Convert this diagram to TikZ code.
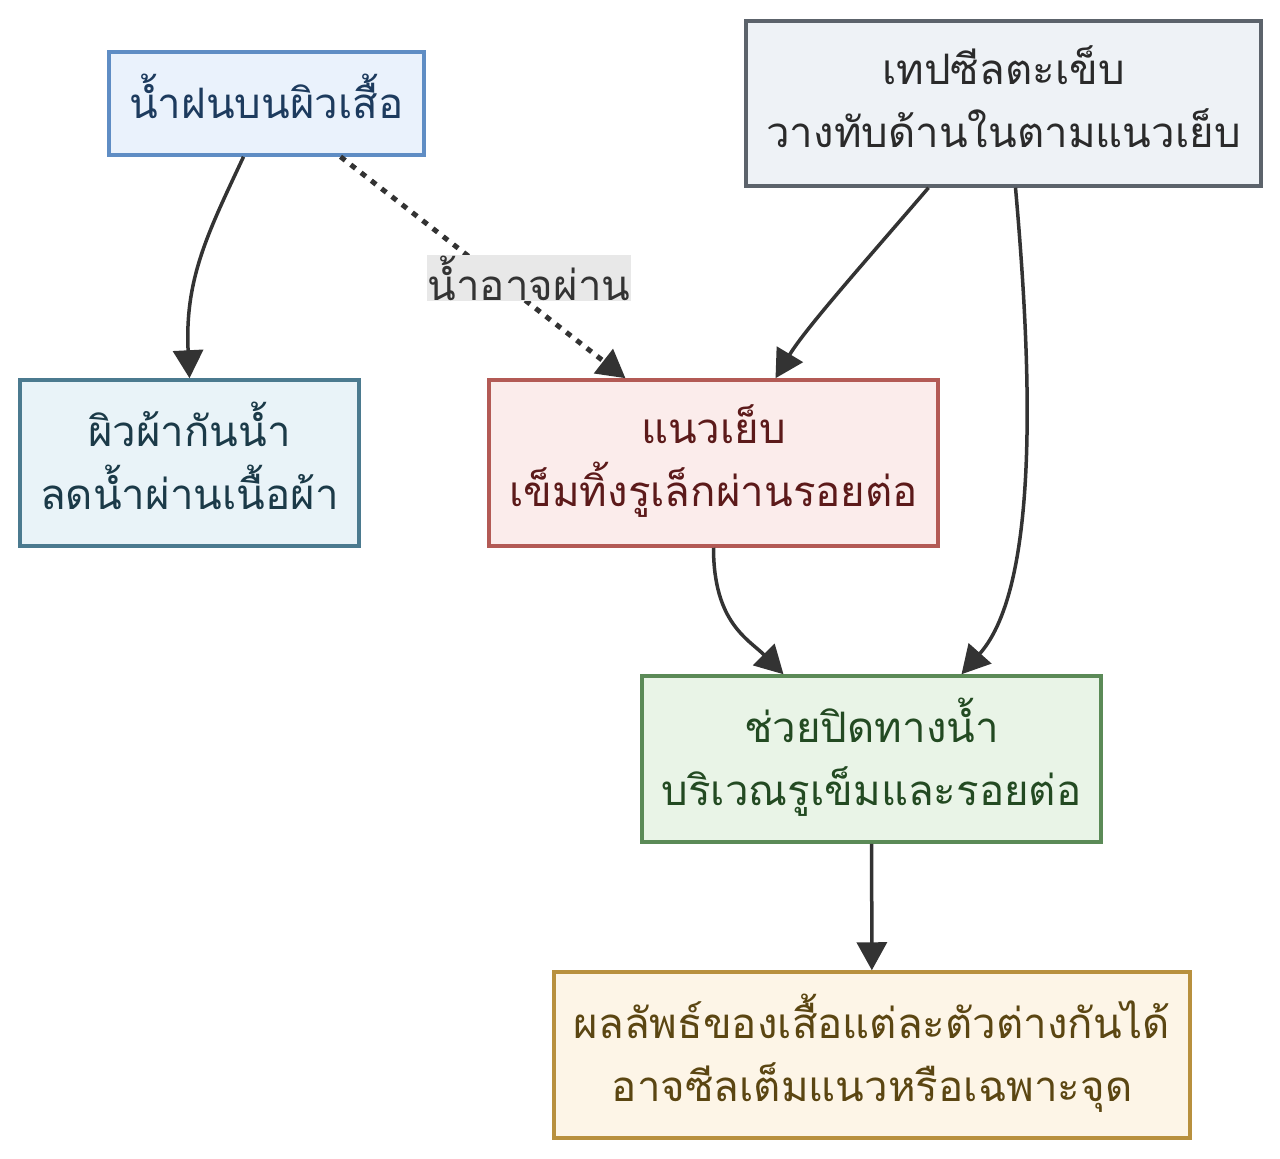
\documentclass[tikz,border=0pt]{standalone}
\usepackage{fontspec}
\usepackage{xcolor}
\usepackage{tikz}
\usetikzlibrary{arrows.meta,positioning}
\newfontfamily\thaifont[Script=Thai]{Loma}

\definecolor{rainfill}{HTML}{EAF2FC}\definecolor{raindraw}{HTML}{5F8DC4}\definecolor{raintext}{HTML}{1D3B5E}
\definecolor{tapefill}{HTML}{EEF2F6}\definecolor{tapedraw}{HTML}{5C636B}\definecolor{tapetext}{HTML}{2A2A2A}
\definecolor{fabfill}{HTML}{E9F3F8}\definecolor{fabdraw}{HTML}{4B7A8F}\definecolor{fabtext}{HTML}{1B3A48}
\definecolor{seamfill}{HTML}{FBECEB}\definecolor{seamdraw}{HTML}{B35A55}\definecolor{seamtext}{HTML}{5C1A1A}
\definecolor{sealfill}{HTML}{E9F4E7}\definecolor{sealdraw}{HTML}{5B8A57}\definecolor{sealtext}{HTML}{234A22}
\definecolor{resfill}{HTML}{FDF5E7}\definecolor{resdraw}{HTML}{B8903E}\definecolor{restext}{HTML}{5B4612}
\definecolor{edgecol}{HTML}{333333}
\definecolor{lblfill}{HTML}{E8E8E8}

\begin{document}
\begin{tikzpicture}[x=1pt,y=-1pt,
    box/.style={draw, line width=3.5pt, align=center, inner sep=0pt, text depth=14pt,
        font=\thaifont\fontsize{42}{63}\selectfont},
    arr/.style={draw=edgecol, line width=3.5pt, -{Triangle[length=28pt,width=30pt]}},
    dotarr/.style={arr, line width=5pt, dash pattern=on 6pt off 7pt},
    lbl/.style={fill=lblfill, text=edgecol, inner sep=1pt,
        font=\thaifont\fontsize{42}{40}\selectfont}]
        \useasboundingbox (0,0) rectangle (1280,1159);

        % Boxes
        \node[box, fill=rainfill, draw=raindraw, text=raintext,
            minimum width=315pt, minimum height=103pt] (rain) at (266.5,103.5) {น้ำฝนบนผิวเสื้อ};
        \node[box, fill=tapefill, draw=tapedraw, text=tapetext,
            minimum width=515pt, minimum height=165pt] (tape) at (1003.5,103.5) {เทปซีลตะเข็บ\\วางทับด้านในตามแนวเย็บ};
        \node[box, fill=fabfill, draw=fabdraw, text=fabtext,
            minimum width=339pt, minimum height=166pt] (fabric) at (189.5,463) {ผิวผ้ากันน้ำ\\ลดน้ำผ่านเนื้อผ้า};
        \node[box, fill=seamfill, draw=seamdraw, text=seamtext,
            minimum width=449pt, minimum height=166pt] (seam) at (713.5,463) {แนวเย็บ\\เข็มทิ้งรูเล็กผ่านรอยต่อ};
        \node[box, fill=sealfill, draw=sealdraw, text=sealtext,
            minimum width=459pt, minimum height=166pt] (seal) at (871.5,759) {ช่วยปิดทางน้ำ\\บริเวณรูเข็มและรอยต่อ};
        \node[box, fill=resfill, draw=resdraw, text=restext,
            minimum width=636pt, minimum height=166pt] (result) at (872,1055) {ผลลัพธ์ของเสื้อแต่ละตัวต่างกันได้\\อาจซีลเต็มแนวหรือเฉพาะจุด};

        % Connectors
        \draw[arr] ([xshift=-23pt]rain.south) .. controls +(-35,75) and +(-5,-100) .. (fabric.north);
        \draw[dotarr] ([xshift=74pt]rain.south) -- node[lbl, pos=0.57, xshift=26pt, yshift=5pt] (leak) {น้ำอาจผ่าน} ([xshift=-88pt]seam.north);
        \draw[arr] ([xshift=-75pt]tape.south) .. controls +(-60,70) and +(30,-50) .. ([xshift=62pt]seam.north);
        \draw[arr] ([xshift=12pt]tape.south) .. controls +(15,170) and +(80,-90) .. ([xshift=90pt]seal.north);
        \draw[arr] (seam.south) .. controls +(0,75) and +(-35,-35) .. ([xshift=-88pt]seal.north);
        \draw[arr] (seal) -- (result);
    \end{tikzpicture}
\end{document}
